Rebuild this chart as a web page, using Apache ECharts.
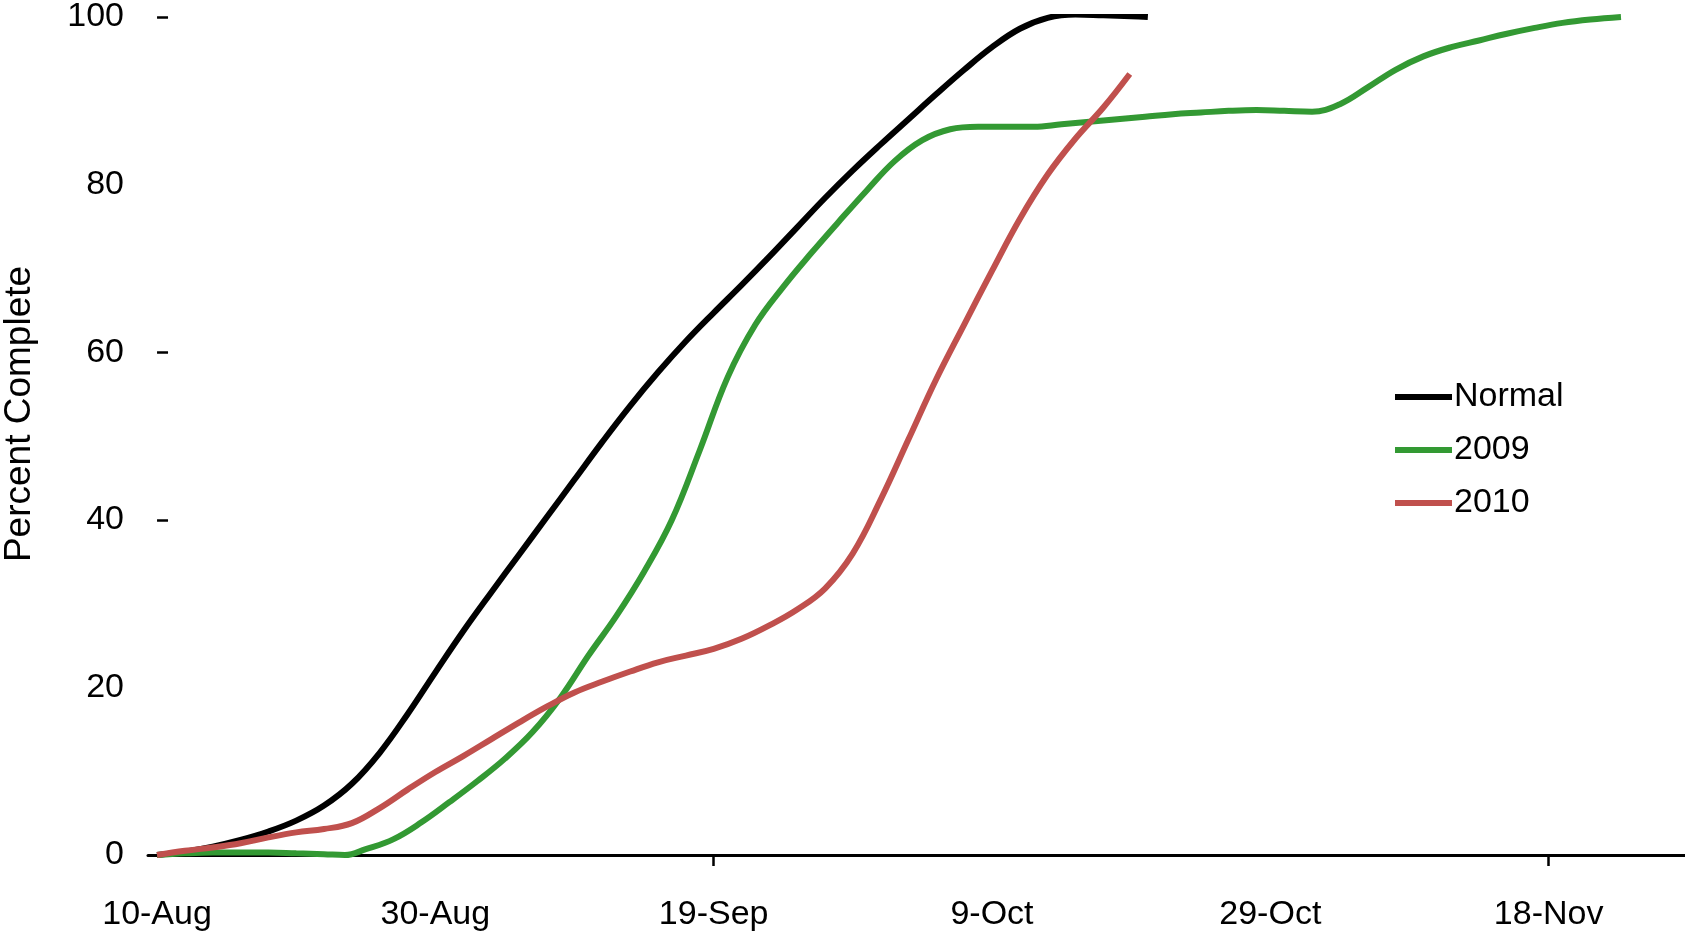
<!DOCTYPE html>
<html>
<head>
<meta charset="utf-8">
<script src="https://cdn.jsdelivr.net/npm/echarts@6/dist/echarts.min.js"></script>
<style>
html,body{margin:0;padding:0;background:#fff;}
#chart{width:1685px;height:932px;}
</style>
</head>
<body>
<div id="chart"></div>
<script>
// x values are days since 10-Aug
const tickDays = [0, 20, 40, 60, 80, 100];
const tickLabels = ['10-Aug', '30-Aug', '19-Sep', '9-Oct', '29-Oct', '18-Nov'];
const seriesNames = ['Normal', '2009', '2010'];

const normalDays   = [0, 2, 4, 6, 8, 10, 12, 14, 16, 18, 20, 22, 24, 26, 28, 30, 32, 34, 36, 38, 40, 42, 44, 46, 48, 50, 52, 54, 56, 58, 60, 62, 64, 66, 68, 70, 71.2];
const normalValues = [0, 0.4, 1.0, 1.8, 2.8, 4.1, 5.9, 8.5, 12.2, 16.8, 21.8, 26.7, 31.3, 35.8, 40.3, 44.8, 49.3, 53.6, 57.6, 61.3, 64.7, 68.0, 71.4, 74.9, 78.4, 81.7, 84.8, 87.8, 90.8, 93.7, 96.4, 98.6, 99.9, 100.3, 100.2, 100.1, 100.0];

const y2009Days   = [0, 2, 4, 6, 8, 10, 12, 13.5, 15, 17, 19, 21, 23, 25, 27, 29, 31, 33, 35, 37, 39, 41, 43, 45, 47, 49, 51, 53, 55, 57, 59, 61, 63, 65, 67, 69, 71, 73, 75, 77, 79, 81, 83, 85, 87, 89, 91, 93, 95, 97, 99, 101, 103, 105.2];
const y2009Values = [0, 0.2, 0.3, 0.3, 0.3, 0.2, 0.1, 0, 0.7, 1.9, 3.9, 6.3, 8.8, 11.5, 14.7, 18.8, 23.8, 28.5, 33.8, 40.0, 48.3, 57.0, 63.3, 67.8, 71.8, 75.6, 79.3, 82.8, 85.3, 86.6, 86.9, 86.9, 86.9, 87.2, 87.5, 87.8, 88.1, 88.4, 88.6, 88.8, 88.9, 88.8, 88.7, 89.6, 91.6, 93.7, 95.3, 96.4, 97.2, 98.0, 98.7, 99.3, 99.7, 100];

const y2010Days   = [0, 2, 4, 6, 8, 10, 12, 14, 16, 18, 20, 22, 24, 26, 28, 30, 32, 34, 36, 38, 40, 42, 44, 46, 48, 50, 52, 54, 56, 58, 60, 62, 64, 66, 68, 69.9];
const y2010Values = [0, 0.5, 0.9, 1.4, 2.1, 2.7, 3.1, 3.8, 5.6, 7.8, 9.9, 11.8, 13.8, 15.8, 17.7, 19.4, 20.7, 21.9, 23.0, 23.8, 24.6, 25.8, 27.4, 29.3, 31.8, 36.0, 42.4, 49.6, 56.8, 63.3, 69.7, 75.9, 81.2, 85.5, 89.2, 93.2];

const yLabels = [0, 20, 40, 60, 80, 100];

function pairs(d, v) { return d.map((x, i) => [x, v[i]]); }

const FONT = '"Liberation Sans", Arial, sans-serif';
const chart = echarts.init(document.getElementById('chart'));
chart.setOption({
  animation: false,
  backgroundColor: '#ffffff',
  grid: { left: 148, right: 0, top: 14.3, bottom: 69.7, containLabel: false },
  xAxis: {
    type: 'value',
    min: -0.65,
    max: 109.8,
    splitLine: { show: false },
    axisLine: { show: true, lineStyle: { color: '#000', width: 3 } },
    axisTick: { show: true, customValues: [40, 100], length: 11, lineStyle: { color: '#000', width: 2.5 } },
    axisLabel: {
      customValues: tickDays,
      formatter: function (v) { const i = tickDays.indexOf(v); return i >= 0 ? tickLabels[i] : ''; },
      color: '#000', fontSize: 34, fontFamily: FONT, margin: 43
    }
  },
  yAxis: {
    type: 'value',
    min: 0, max: 100, interval: 20,
    splitLine: { show: false },
    axisLine: { show: false },
    axisTick: { show: true, inside: true, customValues: [40, 60, 100], length: 11, lineStyle: { color: '#000', width: 2.5 } },
    axisLabel: { customValues: yLabels, color: '#000', fontSize: 34, fontFamily: FONT, margin: 24 }
  },
  graphic: [{
    type: 'text',
    x: 19.5, y: 414,
    rotation: Math.PI / 2,
    style: { text: 'Percent Complete', fill: '#000', font: '37px ' + FONT, align: 'center', verticalAlign: 'middle' }
  }],
  legend: {
    orient: 'vertical',
    left: 1395, top: 380,
    padding: 0,
    itemWidth: 57, itemHeight: 6, itemGap: 19,
    icon: 'rect',
    data: seriesNames,
    textStyle: { color: '#000', fontSize: 34, fontFamily: FONT, padding: [0, 0, 0, -3], lineHeight: 34 }
  },
  series: [
    { name: seriesNames[0], type: 'line', data: pairs(normalDays, normalValues), smooth: 0.4, showSymbol: false, color: '#000000', lineStyle: { width: 6, color: '#000000' } },
    { name: seriesNames[1], type: 'line', data: pairs(y2009Days, y2009Values), smooth: 0.4, showSymbol: false, color: '#339933', lineStyle: { width: 6, color: '#339933' } },
    { name: seriesNames[2], type: 'line', data: pairs(y2010Days, y2010Values), smooth: 0.4, showSymbol: false, color: '#c0504d', lineStyle: { width: 6, color: '#c0504d' } }
  ]
});
</script>
</body>
</html>
